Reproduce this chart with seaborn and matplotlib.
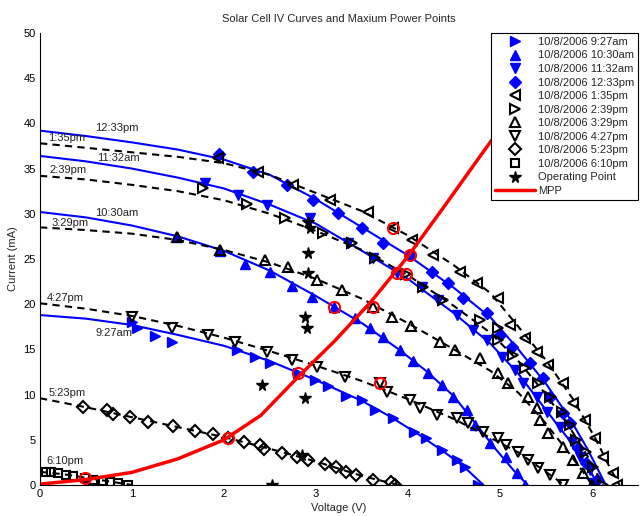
import matplotlib
matplotlib.use("Agg")
import matplotlib.pyplot as plt
from matplotlib.lines import Line2D
import seaborn as sns

# === DATA ===
times = ["9:27am", "10:30am", "11:32am", "12:33pm", "1:35pm",
         "2:39pm", "3:29pm", "4:27pm", "5:23pm", "6:10pm"]
date = "10/8/2006"

# fitted IV curves
fit_v_0927 = [0, 0.5, 1.0, 1.5, 2.0, 2.5, 3.0, 3.5, 3.8, 4.1, 4.4, 4.6, 4.82]
fit_i_0927 = [18.8, 18.4, 17.7, 16.6, 15.4, 13.7, 11.6, 9.3, 7.6, 5.7, 3.6, 2.1, 0.0]
fit_v_1030 = [0, 0.5, 1.0, 1.5, 2.0, 2.5, 3.0, 3.5, 3.9, 4.2, 4.5, 4.75, 4.95, 5.15, 5.3]
fit_i_1030 = [30.2, 29.6, 28.7, 27.5, 25.9, 23.7, 20.9, 17.9, 15.0, 12.6, 9.8, 6.6, 4.0, 1.6, 0.0]
fit_v_1132 = [0, 0.5, 1.0, 1.5, 2.0, 2.5, 3.0, 3.5, 4.0, 4.5, 4.9, 5.2, 5.5, 5.75, 5.95, 6.05]
fit_i_1132 = [36.4, 35.8, 35.0, 34.0, 32.8, 31.0, 28.9, 25.9, 22.8, 19.0, 15.6, 12.3, 8.3, 5.0, 2.1, 0.3]
fit_v_1233 = [0, 0.5, 1.0, 1.5, 2.0, 2.5, 3.0, 3.5, 4.0, 4.5, 4.9, 5.2, 5.5, 5.75, 5.95, 6.15]
fit_i_1233 = [39.2, 38.6, 37.9, 37.1, 36.0, 34.3, 31.6, 28.5, 25.4, 21.8, 18.5, 15.0, 11.2, 7.5, 4.0, 0.0]
fit_v_0135 = [0, 0.5, 1.0, 1.5, 2.0, 2.5, 3.0, 3.5, 4.0, 4.5, 4.9, 5.2, 5.5, 5.8, 6.05, 6.2, 6.3]
fit_i_0135 = [37.8, 37.3, 36.8, 36.3, 35.6, 34.3, 32.3, 30.3, 27.6, 24.3, 21.2, 17.5, 13.8, 9.4, 4.9, 1.8, 0.0]
fit_v_0239 = [0, 0.5, 1.0, 1.5, 2.0, 2.5, 3.0, 3.5, 4.0, 4.5, 4.9, 5.2, 5.5, 5.75, 5.95, 6.12]
fit_i_0239 = [34.2, 33.8, 33.2, 32.5, 31.5, 30.0, 28.1, 26.0, 23.2, 19.8, 16.8, 13.7, 10.0, 6.5, 3.2, 0.0]
fit_v_0329 = [0, 0.5, 1.0, 1.5, 2.0, 2.5, 3.0, 3.5, 4.0, 4.5, 4.9, 5.2, 5.45, 5.7, 5.9, 6.0]
fit_i_0329 = [28.5, 28.2, 27.8, 27.1, 26.0, 24.6, 22.8, 20.6, 17.9, 15.0, 12.6, 10.2, 7.4, 4.2, 1.5, 0.0]
fit_v_0427 = [0, 0.5, 1.0, 1.5, 2.0, 2.5, 3.0, 3.5, 4.0, 4.5, 4.9, 5.2, 5.45, 5.7]
fit_i_0427 = [20.1, 19.5, 18.7, 17.6, 16.3, 14.8, 13.2, 11.5, 9.5, 7.3, 5.2, 3.6, 1.8, 0.0]
fit_v_0523 = [0, 0.5, 1.0, 1.5, 2.0, 2.5, 3.0, 3.5, 3.9]
fit_i_0523 = [9.6, 8.6, 7.5, 6.4, 5.3, 4.0, 2.6, 1.0, 0.0]
fit_v_0610 = [0, 0.25, 0.5, 0.75, 1.0]
fit_i_0610 = [1.45, 1.2, 0.8, 0.4, 0.0]

# measured points
pts_v_0927 = [1.0, 1.05, 1.25, 1.43, 2.14, 2.34, 2.5, 2.8, 2.99, 3.13, 3.33, 3.5, 3.64, 3.84,
              4.06, 4.2, 4.37, 4.53, 4.62, 4.76]
pts_i_0927 = [18.0, 17.4, 16.5, 15.8, 14.9, 14.2, 13.5, 12.4, 11.6, 10.9, 9.9, 9.4, 8.3, 7.4,
              5.9, 5.2, 3.9, 2.8, 2.0, 0.0]
pts_v_1030 = [1.49, 1.96, 2.23, 2.5, 2.74, 2.96, 3.2, 3.42, 3.59, 3.73, 3.91, 4.05, 4.22, 4.37,
              4.49, 4.64, 4.73, 4.89, 5.07, 5.18, 5.27]
pts_i_1030 = [27.4, 25.9, 24.5, 23.6, 22.0, 20.8, 19.7, 18.5, 17.4, 16.4, 14.9, 13.7, 12.4, 11.1,
              9.7, 8.3, 6.6, 4.6, 3.1, 1.3, 0.0]
pts_v_1132 = [1.79, 2.15, 2.47, 2.93, 3.35, 3.62, 3.88, 4.15, 4.33, 4.53, 4.71, 4.86, 5.02, 5.16,
              5.25, 5.4, 5.51, 5.65, 5.78, 5.87, 5.98, 6.01]
pts_i_1132 = [33.4, 32.1, 31.0, 29.5, 26.8, 25.1, 23.5, 21.9, 20.5, 18.8, 17.1, 16.0, 14.2, 12.7,
              11.3, 9.7, 8.1, 6.4, 4.8, 3.1, 1.7, 0.2]
pts_v_1233 = [1.95, 2.32, 2.68, 2.97, 3.24, 3.5, 3.73, 4.02, 4.26, 4.43, 4.6, 4.86, 5.0, 5.13,
              5.33, 5.47, 5.54, 5.69, 5.76, 5.85, 5.94, 6.05]
pts_i_1233 = [36.6, 34.6, 33.2, 31.5, 30.1, 28.4, 26.8, 25.4, 23.6, 22.3, 20.7, 19.0, 16.6, 15.3,
              13.5, 11.8, 9.7, 8.0, 6.9, 4.1, 2.4, 0.6]
pts_v_0135 = [1.94, 2.37, 2.75, 3.15, 3.57, 3.84, 4.04, 4.27, 4.57, 4.75, 4.98, 5.11, 5.27, 5.4,
              5.52, 5.68, 5.79, 5.92, 6.03, 6.12, 6.23, 6.27]
pts_i_0135 = [36.2, 34.6, 33.2, 31.5, 30.2, 28.4, 27.1, 25.4, 23.6, 22.3, 20.7, 17.7, 16.3, 14.7,
              13.3, 11.3, 9.1, 7.2, 5.2, 3.1, 1.3, 0.0]
pts_v_0239 = [1.77, 2.25, 2.66, 3.08, 3.39, 3.64, 3.98, 4.16, 4.38, 4.78, 4.98, 4.98, 5.14, 5.27,
              5.41, 5.54, 5.67, 5.76, 5.83, 5.94, 6.01, 6.12]
pts_i_0239 = [32.9, 31.1, 29.5, 27.9, 26.8, 25.1, 23.3, 21.9, 20.5, 18.2, 17.4, 16.0, 14.4, 12.9,
              11.3, 9.7, 8.1, 6.6, 5.0, 3.7, 2.0, 0.0]
pts_v_0329 = [1.49, 1.96, 2.45, 2.7, 3.01, 3.28, 3.62, 3.83, 4.03, 4.35, 4.51, 4.78, 4.98, 5.09,
              5.3, 5.4, 5.43, 5.52, 5.68, 5.79, 5.9, 6.0]
pts_i_0329 = [27.4, 26.0, 24.9, 24.1, 22.7, 21.6, 19.7, 18.6, 17.6, 15.8, 14.9, 14.0, 12.4, 11.3,
              9.7, 8.5, 7.2, 5.8, 4.2, 2.8, 1.3, 0.0]
pts_v_0427 = [1.0, 1.43, 1.83, 2.12, 2.47, 2.74, 3.01, 3.32, 3.7, 3.77, 4.02, 4.13, 4.32, 4.53,
              4.65, 4.82, 4.98, 5.07, 5.2, 5.3, 5.41, 5.54, 5.68]
pts_i_0427 = [18.6, 17.4, 16.6, 15.8, 14.7, 13.8, 13.1, 12.0, 11.3, 10.3, 9.4, 8.5, 7.7, 7.4,
              6.9, 5.9, 5.2, 4.4, 3.7, 2.8, 1.9, 1.1, 0.0]
pts_v_0523 = [0.47, 0.73, 0.79, 0.98, 1.17, 1.45, 1.68, 1.88, 2.04, 2.22, 2.39, 2.43, 2.63, 2.79,
              2.91, 3.1, 3.22, 3.33, 3.44, 3.62, 3.82, 3.86]
pts_i_0523 = [8.6, 8.3, 7.9, 7.5, 7.0, 6.5, 6.0, 5.6, 5.2, 4.8, 4.4, 4.0, 3.5, 3.1,
              2.8, 2.3, 2.0, 1.4, 1.1, 0.55, 0.3, 0.0]
pts_v_0610 = [0.06, 0.12, 0.2, 0.28, 0.36, 0.49, 0.58, 0.68, 0.76, 0.85, 0.96]
pts_i_0610 = [1.45, 1.4, 1.3, 1.15, 1.0, 0.8, 0.6, 0.45, 0.35, 0.2, 0.0]

# maximum power point of each curve (same order as times)
mpp_v = [2.8, 3.2, 3.88, 4.02, 3.84, 3.98, 3.62, 3.7, 2.04, 0.49]
mpp_i = [12.4, 19.7, 23.4, 25.4, 28.4, 23.3, 19.7, 11.3, 5.2, 0.8]

# operating points
op_v = [2.91, 2.94, 2.91, 2.91, 2.88, 2.90, 2.41, 2.88, 2.85, 2.52]
op_i = [29.1, 28.4, 25.7, 23.5, 18.6, 17.4, 11.1, 9.6, 3.3, 0.0]

# MPP locus
locus_v = [0, 0.5, 1.0, 1.5, 2.0, 2.4, 2.8, 3.2, 3.6, 4.0, 4.4, 4.8, 5.2, 5.6, 5.8]
locus_i = [0.1, 0.6, 1.4, 2.9, 5.0, 7.7, 11.9, 15.9, 20.3, 25.3, 30.9, 36.6, 42.2, 47.8, 50.6]

# === STYLE ===
markers = [">", "^", "v", "D", "<", ">", "^", "v", "D", "s"]
marker_sizes = [7, 7, 7, 6, 7, 7, 7, 7, 6, 5.5]
label_pos = [(0.80, 16.8), (0.83, 30.1), (0.85, 36.2), (0.83, 39.5), (0.29, 38.4),
             (0.30, 34.8), (0.33, 29.0), (0.27, 20.7), (0.29, 10.2), (0.27, 2.7)]
dash = (0, (3.5, 2.5))


def main():
    sns.set_theme(style="white")
    plt.rcParams["font.family"] = ["Liberation Sans", "DejaVu Sans"]
    plt.rcParams["xtick.direction"] = "in"
    plt.rcParams["ytick.direction"] = "in"

    fits = [(fit_v_0927, fit_i_0927), (fit_v_1030, fit_i_1030), (fit_v_1132, fit_i_1132),
            (fit_v_1233, fit_i_1233), (fit_v_0135, fit_i_0135), (fit_v_0239, fit_i_0239),
            (fit_v_0329, fit_i_0329), (fit_v_0427, fit_i_0427), (fit_v_0523, fit_i_0523),
            (fit_v_0610, fit_i_0610)]
    pts = [(pts_v_0927, pts_i_0927), (pts_v_1030, pts_i_1030), (pts_v_1132, pts_i_1132),
           (pts_v_1233, pts_i_1233), (pts_v_0135, pts_i_0135), (pts_v_0239, pts_i_0239),
           (pts_v_0329, pts_i_0329), (pts_v_0427, pts_i_0427), (pts_v_0523, pts_i_0523),
           (pts_v_0610, pts_i_0610)]

    fig = plt.figure(figsize=(6.4, 5.16), dpi=100)
    ax = fig.add_axes([40 / 640, 31 / 516, 598 / 640, 452 / 516])

    handles = []
    for k, t in enumerate(times):
        blue = k < 4
        col = "blue" if blue else "black"
        sns.lineplot(x=fits[k][0], y=fits[k][1], ax=ax, color=col, lw=1.5,
                     linestyle="-" if blue else dash, sort=False, estimator=None)
        mstyle = dict(marker=markers[k], ms=marker_sizes[k], mec=col,
                      mfc=col if blue else "none", mew=1.0 if blue else 1.5)
        ax.plot(pts[k][0], pts[k][1], ls="none", **mstyle)
        handles.append(Line2D([], [], ls="none", label=f"{date} {t}", **mstyle))
        ax.text(label_pos[k][0], label_pos[k][1], t, ha="center", va="center",
                fontsize=8, color="#222222")

    ax.plot(op_v, op_i, ls="none", marker="*", ms=8.5, color="black")
    handles.append(Line2D([], [], ls="none", marker="*", ms=8.5, color="black",
                          label="Operating Point"))

    sns.lineplot(x=locus_v, y=locus_i, ax=ax, color="red", lw=2.5, sort=False, estimator=None)
    handles.append(Line2D([], [], color="red", lw=2.5, label="MPP"))
    ax.plot(mpp_v, mpp_i, ls="none", marker="o", ms=8, mfc="none", mec="red", mew=1.5)

    ax.set_xlim(0, 6.5)
    ax.set_ylim(0, 50)
    ax.set_xticks(range(0, 7))
    ax.set_yticks(range(0, 51, 5))
    ax.tick_params(labelsize=8, length=3, width=0.8, colors="black", pad=3)
    for side in ["top", "right"]:
        ax.spines[side].set_visible(False)
    for side in ["left", "bottom"]:
        ax.spines[side].set_color("black")
        ax.spines[side].set_linewidth(0.8)

    ax.set_xlabel("Voltage (V)", fontsize=8, labelpad=3)
    ax.set_ylabel("Current (mA)", fontsize=8, labelpad=4)
    ax.set_title("Solar Cell IV Curves and Maxium Power Points", fontsize=8, pad=8)

    leg = ax.legend(handles=handles, loc="upper right", fontsize=8, frameon=True,
                    fancybox=False, framealpha=1, edgecolor="black", borderaxespad=0,
                    borderpad=0.35, labelspacing=0.32, handlelength=3.6, handletextpad=0.3)
    leg.get_frame().set_linewidth(0.8)
    leg.set_zorder(10)

    fig.savefig("out.png", dpi=100)
    plt.close(fig)


if __name__ == "__main__":
    main()
